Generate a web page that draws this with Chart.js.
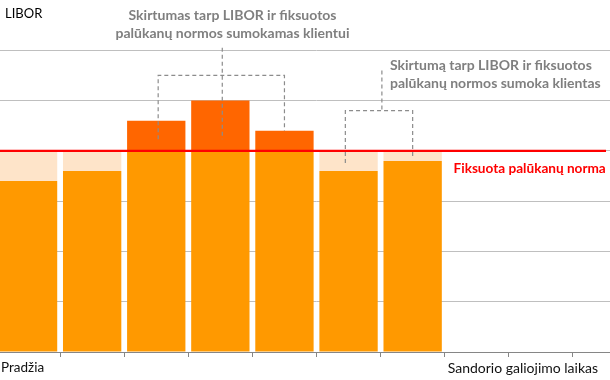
<!DOCTYPE html>
<html>
<head>
<meta charset="utf-8">
<script src="https://cdn.jsdelivr.net/npm/chart.js@4"></script>
<style>
html,body{margin:0;padding:0;background:#fff;overflow:hidden;width:610px;height:380px;}
#wrap{position:absolute;left:-4px;top:0;width:641px;height:380px;}
</style>
</head>
<body>
<div id="wrap"><canvas id="c" width="641" height="380"></canvas></div>
<script>
// ---- data ----
const categories = ['Pradžia','','','','','','','Sandorio galiojimo laikas','',''];
const libor = [3.4, 3.6, 4.6, 5.0, 4.4, 3.6, 3.8, null, null, null];
const fixedRate = 4.0;
const yTicks = [0,1,2,3,4,5,6,7];
const axisTitle = 'LIBOR';
const fixedLabel = 'Fiksuota palūkanų norma';
const note1 = ['Skirtumas tarp LIBOR ir fiksuotos','palūkanų normos sumokamas klientui'];
const note2 = ['Skirtumą tarp LIBOR ir fiksuotos','palūkanų normos sumoka klientas'];
// bracket anchors (category index, value)
const bracket1 = {left:2.03, right:4.0, mid:3.03, top:5.5, stem:6.05, leftEnd:4.23, midEnd:4.23, rightEnd:4.4};
const bracket2 = {left:4.95, right:6.0, mid:5.52, top:4.8, stem:5.6, leftEnd:3.76, midEnd:4.8, rightEnd:3.88};

const baseVals = libor.map(v => v == null ? null : Math.min(v, fixedRate));
const aboveVals = libor.map(v => v == null ? null : Math.max(0, v - fixedRate));
const gapVals = libor.map(v => v == null ? null : Math.max(0, fixedRate - v));

const FONT = 'Lato, "Open Sans", sans-serif';

const overlay = {
  id: 'overlay',
  afterDatasetsDraw(chart) {
    const ctx = chart.ctx;
    const ca = chart.chartArea;
    const ys = chart.scales.y;
    const cw = (ca.right - ca.left) / categories.length;
    const px = i => ca.left + (i + 0.5) * cw;
    const off = 4; // canvas offset vs page
    ctx.save();
    // red fixed-rate line
    ctx.strokeStyle = '#FF0000';
    ctx.lineWidth = 2.3;
    ctx.beginPath();
    const yr = ys.getPixelForValue(fixedRate);
    ctx.moveTo(ca.left, yr);
    ctx.lineTo(606 + off, yr);
    ctx.stroke();
    // dashed brackets
    ctx.strokeStyle = '#8C8C8C';
    ctx.lineWidth = 1.2;
    ctx.setLineDash([4, 3]);
    function bracket(b) {
      const yt = ys.getPixelForValue(b.top);
      ctx.beginPath();
      ctx.moveTo(px(b.left), ys.getPixelForValue(b.leftEnd));
      ctx.lineTo(px(b.left), yt);
      ctx.lineTo(px(b.right), yt);
      ctx.lineTo(px(b.right), ys.getPixelForValue(b.rightEnd));
      ctx.stroke();
      ctx.beginPath();
      ctx.moveTo(px(b.mid), ys.getPixelForValue(b.stem));
      ctx.lineTo(px(b.mid), ys.getPixelForValue(b.midEnd));
      ctx.stroke();
    }
    bracket(bracket1);
    bracket(bracket2);
    ctx.setLineDash([]);
    // texts
    ctx.textBaseline = 'middle';
    ctx.fillStyle = '#000000';
    ctx.font = '13px ' + FONT;
    ctx.textAlign = 'left';
    ctx.fillText(axisTitle, 5 + off, 14);
    // bottom labels at category starts
    ctx.fillStyle = '#111111';
    categories.forEach((c, i) => {
      if (!c) return;
      ctx.font = (i === 0 ? '13.5px ' : '14px ') + FONT;
      const x = ca.left + i * cw + (i === 0 ? 5 : 3);
      ctx.fillText(c, x, 368);
    });
    ctx.font = 'bold 14px ' + FONT;
    ctx.fillStyle = '#7F7F7F';
    ctx.textAlign = 'center';
    ctx.fillText(note1[0], 232.5 + off, 15);
    ctx.fillText(note1[1], 232.5 + off, 33);
    ctx.textAlign = 'left';
    ctx.fillText(note2[0], 390 + off, 65);
    ctx.fillText(note2[1], 390 + off, 83);
    ctx.fillStyle = '#FF0000';
    ctx.font = 'bold 13.6px ' + FONT;
    ctx.fillText(fixedLabel, 453.5 + off, 169);
    ctx.restore();
  }
};

new Chart(document.getElementById('c'), {
  type: 'bar',
  data: {
    labels: categories,
    datasets: [
      {label:'base', data: baseVals, backgroundColor:'#FF9900', stack:'s'},
      {label:'above', data: aboveVals, backgroundColor:'#FF6600', stack:'s'},
      {label:'gap', data: gapVals, backgroundColor:'#FEE4C9', stack:'s'}
    ]
  },
  options: {
    responsive: false,
    devicePixelRatio: 1,
    animation: false,
    events: [],
    layout: {padding: 0},
    categoryPercentage: 1.0,
    barPercentage: 0.91,
    plugins: {legend:{display:false}, tooltip:{enabled:false}, title:{display:false}},
    scales: {
      x: {
        stacked: true,
        offset: true,
        grid: {offset: true, drawOnChartArea: false, drawTicks: true, tickLength: 5, color:'#868686', lineWidth: 1},
        border: {display: true, color:'#868686', width: 1},
        ticks: {display: false},
        afterFit: s => { s.height = 28; }
      },
      y: {
        stacked: true,
        min: yTicks[0], max: yTicks[yTicks.length-1],
        afterBuildTicks: s => { s.ticks = yTicks.map(v => ({value: v})); },
        ticks: {display: false},
        grid: {drawTicks: false, color: c => (c.tick && (c.tick.value === 0 || c.tick.value === 7)) ? 'rgba(0,0,0,0)' : '#BFBFBF', lineWidth: 1},
        border: {display: false},
        afterFit: s => { s.width = 0; }
      }
    }
  },
  plugins: [overlay]
});
</script>
</body>
</html>
